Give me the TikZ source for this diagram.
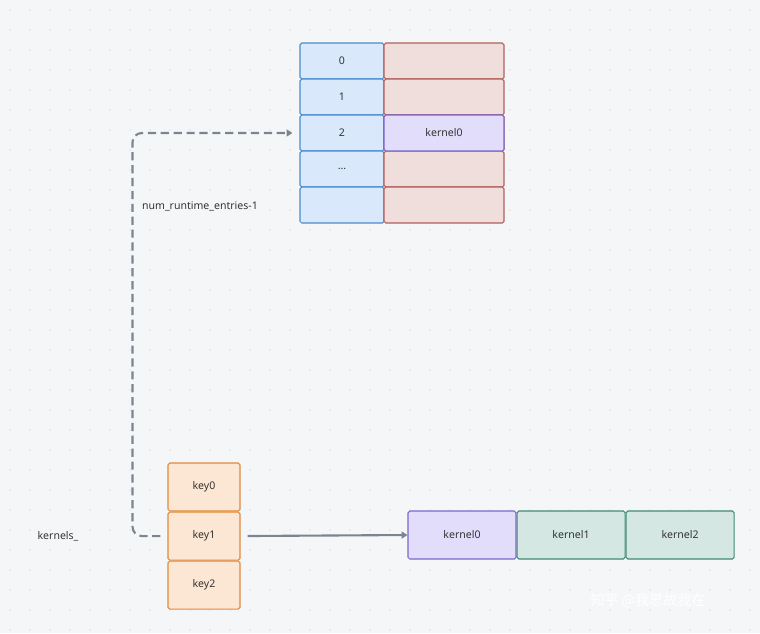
\documentclass[tikz,border=0pt]{standalone}
\usepackage{fontspec}
\setmainfont{Noto Sans}
\newfontfamily\cjk{Noto Sans CJK SC}
\usetikzlibrary{positioning,arrows.meta,calc}
\definecolor{bgcol}{HTML}{F4F6F8}
\definecolor{dotcol}{HTML}{C9D0D8}
\definecolor{bluefill}{HTML}{DAE8FC}
\definecolor{bluedraw}{HTML}{4A8CCB}
\definecolor{redfill}{HTML}{F0DEDD}
\definecolor{reddraw}{HTML}{B0605C}
\definecolor{purpfill}{HTML}{E2DDFB}
\definecolor{purpdraw}{HTML}{7B66D0}
\definecolor{orfill}{HTML}{FCE6D4}
\definecolor{ordraw}{HTML}{E0893A}
\definecolor{grnfill}{HTML}{D5E7E2}
\definecolor{grndraw}{HTML}{3F8A73}
\definecolor{linecol}{HTML}{7B8592}
\definecolor{txtcol}{HTML}{333333}
\begin{document}
\begin{tikzpicture}[x=0.03cm, y=-0.03cm,
    cell/.style={draw, line width=0.9pt, rounded corners=1.5pt, inner sep=0pt, font=\small, text=txtcol},
    idx/.style={cell, fill=bluefill, draw=bluedraw, minimum width=84*0.03cm, minimum height=36*0.03cm},
    slot/.style={cell, fill=redfill, draw=reddraw, minimum width=120*0.03cm, minimum height=36*0.03cm},
    key/.style={cell, fill=orfill, draw=ordraw, minimum width=72*0.03cm, minimum height=48*0.03cm},
    kern/.style={cell, minimum width=108*0.03cm, minimum height=48*0.03cm},
    link/.style={linecol, line width=1.8pt, -{Triangle[length=5pt,width=6pt]}}]
    % Background
    \fill[bgcol] (0,0) rectangle (760,633);
    \useasboundingbox (0,0) rectangle (760,633);
    \foreach \x in {10,30,...,750} {
        \foreach \y in {10,30,...,630} {
            \fill[dotcol] (\x,\y) circle (0.5pt);
        }
    }

    % Runtime table
    \foreach \i/\t in {0/0, 1/1, 2/2, 3/\ldots, 4/{}} {
        \node[idx] (e\i) at (342,61+36*\i) {\t};
        \node[slot] (s\i) at (444,61+36*\i) {};
    }
    \node[cell, fill=purpfill, draw=purpdraw, minimum width=120*0.03cm, minimum height=36*0.03cm] at (s2) {kernel0};
    \node[font=\small, text=txtcol] (lastlbl) at (200,206) {num\_runtime\_entries-1};

    % Keys
    \node[key] (k0) at (204,487) {key0};
    \node[key, below=0pt of k0] (k1) {key1};
    \node[key, below=0pt of k1] (k2) {key2};
    \node[font=\small, text=txtcol] (klbl) at (58,536) {kernels\_};

    % Kernel array
    \node[kern, fill=purpfill, draw=purpdraw] (kn0) at (462,535) {kernel0};
    \node[kern, fill=grnfill, draw=grndraw, right=0pt of kn0] (kn1) {kernel1};
    \node[kern, fill=grnfill, draw=grndraw, right=0pt of kn1] (kn2) {kernel2};

    % Connectors
    \draw[link, shorten <=6pt] (k1.east) -- (kn0.west);
    \draw[link, dashed, dash pattern=on 7pt off 4pt, rounded corners=8pt, shorten <=6pt, shorten >=6pt]
        (k1.west) -- ++(-35,0) |- (e2.west);

    % Watermark
    \node[text=white, font=\cjk\large] (wm) at (648,601) {知乎 @我思故我在};
\end{tikzpicture}
\end{document}
